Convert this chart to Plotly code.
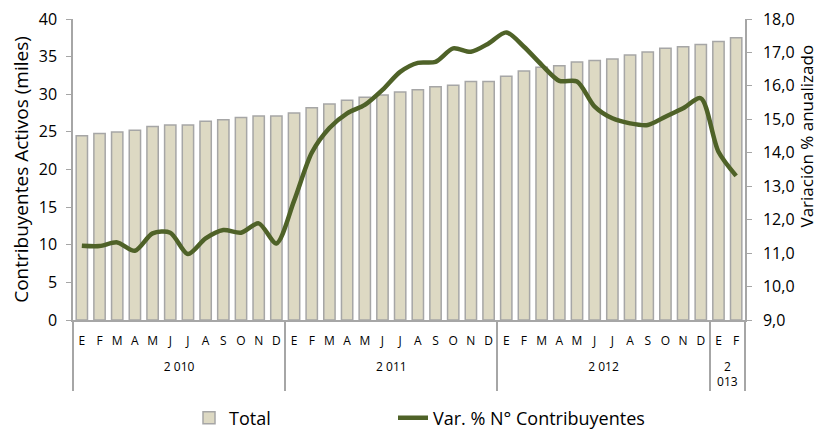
import plotly.graph_objects as go

years = ["<br>2 010"] * 12 + ["<br>2 011"] * 12 + ["<br>2 012"] * 12 + ["<br>2<br>013"] * 2
month_letters = ["E", "F", "M", "A", "M\u200b", "J", "J\u200b", "A\u200b", "S", "O", "N", "D"]
months = month_letters * 3 + ["E", "F"]

total = [24.5, 24.8, 25.0, 25.2, 25.7, 25.9, 25.9, 26.4, 26.6, 26.9, 27.1, 27.1,
         27.5, 28.2, 28.7, 29.2, 29.6, 29.9, 30.3, 30.6, 31.0, 31.2, 31.7, 31.7,
         32.4, 33.1, 33.6, 33.8, 34.3, 34.5, 34.7, 35.2, 35.6, 36.1, 36.3, 36.6,
         37.0, 37.5]

var_pct = [11.22, 11.21, 11.32, 11.07, 11.59, 11.61, 10.97, 11.44, 11.69, 11.61, 11.89, 11.29,
           12.56, 14.0, 14.74, 15.18, 15.43, 15.88, 16.42, 16.69, 16.72, 17.12, 17.02, 17.27,
           17.6, 17.17, 16.63, 16.15, 16.13, 15.38, 15.03, 14.88, 14.83, 15.08, 15.33, 15.63,
           14.03, 13.31]

FONT = "Open Sans"
AX = "#A6A6A6"
OFF = 8  # page body margin
W, H = 825 - OFF, 431 - OFF

fig = go.Figure()
fig.add_trace(go.Bar(
    x=[years, months], y=total, name="Total", legend="legend",
    marker=dict(color="#DDD9C3", line=dict(color="#A6A6A6", width=1.5)),
))
fig.add_trace(go.Scatter(
    x=[years, months], y=var_pct, name="Var. % N° Contribuyentes", yaxis="y2", legend="legend2",
    mode="lines", line=dict(color="#4F6228", width=4.5, shape="spline", smoothing=0.8),
))

leg_common = dict(orientation="h", xref="container", yref="container", xanchor="left",
                  y=1 - (418 - OFF) / H, yanchor="middle",
                  font=dict(size=18, family=FONT))

fig.update_layout(
    width=W, height=H,
    margin=dict(l=73 - OFF, r=W - (745 - OFF), t=19 - OFF, b=H - (320 - OFF)),
    paper_bgcolor="white", plot_bgcolor="white",
    font=dict(family=FONT, color="#000000"),
    separators=",.",
    bargap=0.36,
    showlegend=True,
    legend=dict(x=(189 - OFF) / W, **leg_common),
    legend2=dict(x=(393 - OFF) / W, **leg_common),
    xaxis=dict(
        type="multicategory", automargin=False, showline=True, linecolor=AX, linewidth=1.5,
        showdividers=True, dividercolor=AX, dividerwidth=1.5,
        tickfont=dict(size=12, family=FONT), tickangle=0, ticks="", showgrid=False,
        ticklabelstandoff=9,
    ),
    yaxis=dict(
        range=[0, 40], dtick=5, automargin=False, showline=True, linecolor=AX, linewidth=1.5,
        ticks="outside", ticklen=5, tickcolor=AX, showgrid=False, zeroline=False,
        tickfont=dict(size=16, family=FONT), ticklabelstandoff=6, ticklabeloverflow="allow",
        title=dict(text="Contribuyentes Activos (miles)", font=dict(size=19, family=FONT), standoff=10),
    ),
    yaxis2=dict(
        range=[9, 18], dtick=1, tickformat=".1f", overlaying="y", side="right", automargin=False,
        showline=True, linecolor=AX, linewidth=1.5,
        ticks="outside", ticklen=5, tickcolor=AX, showgrid=False, zeroline=False,
        tickfont=dict(size=16, family=FONT), ticklabelstandoff=8, ticklabeloverflow="allow",
    ),
    annotations=[dict(
        text="Variación % anualizado", textangle=-90, showarrow=False,
        xref="paper", yref="paper", x=(806 - 73) / 672, y=(320 - 230) / 301,
        xanchor="center", yanchor="bottom", font=dict(size=17, family=FONT),
    )],
)

fig.write_html("out.html")
